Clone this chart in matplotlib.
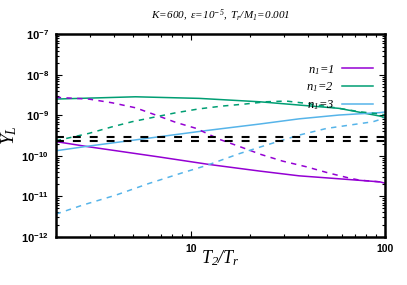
import numpy as np
import matplotlib
matplotlib.use("Agg")
import matplotlib.pyplot as plt
from matplotlib.ticker import FixedLocator, LogLocator, NullFormatter

plt.rcParams['mathtext.fontset'] = 'custom'
plt.rcParams['mathtext.rm'] = 'Liberation Serif:italic'
plt.rcParams['mathtext.it'] = 'Liberation Serif:italic'
plt.rcParams['mathtext.sf'] = 'Liberation Sans:bold'

# n1 = 1 (purple)
x_p_solid = [2.0, 2.96, 6.8, 12.4, 22.5, 36, 58, 94, 100]
y_p_solid = [2.25e-10, 1.67e-10, 9.4e-11, 6.1e-11, 4.2e-11, 3.2e-11, 2.7e-11, 2.27e-11, 2.1e-11]
x_p_dash = [2.0, 2.96, 3.9, 5.16, 6.56, 8.33, 10.6, 13.96, 18.1, 22.9, 29.6, 39.3, 50.7, 65.7, 74, 94, 100]
y_p_dash = [2.79e-9, 2.53e-9, 2.05e-9, 1.54e-9, 1.02e-9, 6.7e-10, 4.77e-10, 2.56e-10, 1.64e-10,
            1.08e-10, 7.4e-11, 5.35e-11, 3.8e-11, 2.8e-11, 2.5e-11, 2.27e-11, 2.1e-11]

# n1 = 2 (green)
x_g_solid = [2.0, 5.16, 11, 22.5, 36, 58, 94, 100]
y_g_solid = [2.53e-9, 2.88e-9, 2.63e-9, 2.17e-9, 1.8e-9, 1.49e-9, 9.6e-10, 8.8e-10]
x_g_dash = [2.0, 2.96, 3.9, 4.94, 6.56, 8.33, 11, 14.5, 18.8, 24.4, 30.9, 39.3, 58, 74, 94, 100]
y_g_dash = [2.35e-10, 3.58e-10, 5.2e-10, 6.95e-10, 9.2e-10, 1.16e-9, 1.45e-9, 1.7e-9, 1.9e-9,
            2.17e-9, 2.26e-9, 1.98e-9, 1.49e-9, 1.23e-9, 1.08e-9, 1.03e-9]

# n1 = 3 (blue)
x_b_solid = [2.0, 2.96, 6.8, 11.9, 22.5, 36, 58, 94, 100]
y_b_solid = [1.33e-10, 1.74e-10, 2.95e-10, 4.2e-10, 6.1e-10, 8.2e-10, 1.02e-9, 1.17e-9, 1.21e-9]
x_b_dash = [2.0, 2.74, 4.07, 6.05, 9.0, 11.9, 17.7, 24.4, 36, 50, 65.7, 86.6, 100]
y_b_dash = [3.6e-12, 6.0e-12, 1.06e-11, 2.07e-11, 3.8e-11, 5.7e-11, 1.13e-10, 1.84e-10,
            3.25e-10, 4.76e-10, 5.75e-10, 6.95e-10, 8.6e-10]

# horizontal reference levels
y_ref = [2.95e-10, 2.35e-10]

purple = '#9400D3'
green = '#009E73'
blue = '#56B4E9'

fig = plt.figure(figsize=(4.07, 2.85), dpi=100)
ax = fig.add_axes([0.137, 0.1695, 0.809, 0.7095])

ax.plot(x_p_solid, y_p_solid, color=purple, lw=1.1, label=r'$n_1\!=\!1$')
ax.plot(x_g_solid, y_g_solid, color=green, lw=1.1, label=r'$n_1\!=\!2$')
ax.plot(x_b_solid, y_b_solid, color=blue, lw=1.1, label=r'$n_1\!=\!3$')
ax.plot(x_p_dash, y_p_dash, color=purple, lw=1.1, dashes=(3.5, 3.5))
ax.plot(x_g_dash, y_g_dash, color=green, lw=1.1, dashes=(3.5, 3.5))
ax.plot(x_b_dash, y_b_dash, color=blue, lw=1.1, dashes=(3.5, 3.5))
for yr in y_ref:
    ax.axhline(yr, color='black', lw=1.5, dashes=(3.8, 4.3))

ax.set_xscale('log')
ax.set_yscale('log')
ax.set_xlim(2, 100)
ax.set_ylim(1e-12, 1e-7)

ax.xaxis.set_major_locator(FixedLocator([10, 100]))
ax.set_xticklabels(['10', '100'], fontfamily='Liberation Sans', fontweight='bold', fontsize=7.5)
ax.xaxis.set_minor_locator(LogLocator(base=10, subs=np.arange(2, 10)))
ax.xaxis.set_minor_formatter(NullFormatter())
yt = [1e-12, 1e-11, 1e-10, 1e-9, 1e-8, 1e-7]
ax.yaxis.set_major_locator(FixedLocator(yt))
ax.set_yticklabels([r'$\mathsf{10^{-%d}}$' % k for k in [12, 11, 10, 9, 8, 7]], fontsize=8)
ax.yaxis.set_minor_locator(LogLocator(base=10, subs=np.arange(2, 10)))
ax.yaxis.set_minor_formatter(NullFormatter())

ax.tick_params(which='both', direction='in', top=True, right=True, width=0.8)
ax.tick_params(which='major', length=4, pad=5)
ax.tick_params(which='minor', length=2)
for s in ax.spines.values():
    s.set_linewidth(1.8)

ax.set_xlabel(r'$T_2/T_r$', fontsize=13, labelpad=-3.5)
ax.set_ylabel(r'$Y_L$', fontsize=14, labelpad=2)
ax.set_title(r'$K\!=\!600,\ \varepsilon\!=\!10^{-5},\ T_r/M_1\!=\!0.001$', fontsize=8, pad=11)

ax.legend(loc='upper right', bbox_to_anchor=(0.964, 0.86), frameon=False, fontsize=9,
          markerfirst=False, handlelength=2.5, handletextpad=0.6, labelspacing=0.3,
          borderpad=0, borderaxespad=0)

fig.savefig('out.png', dpi=100)
